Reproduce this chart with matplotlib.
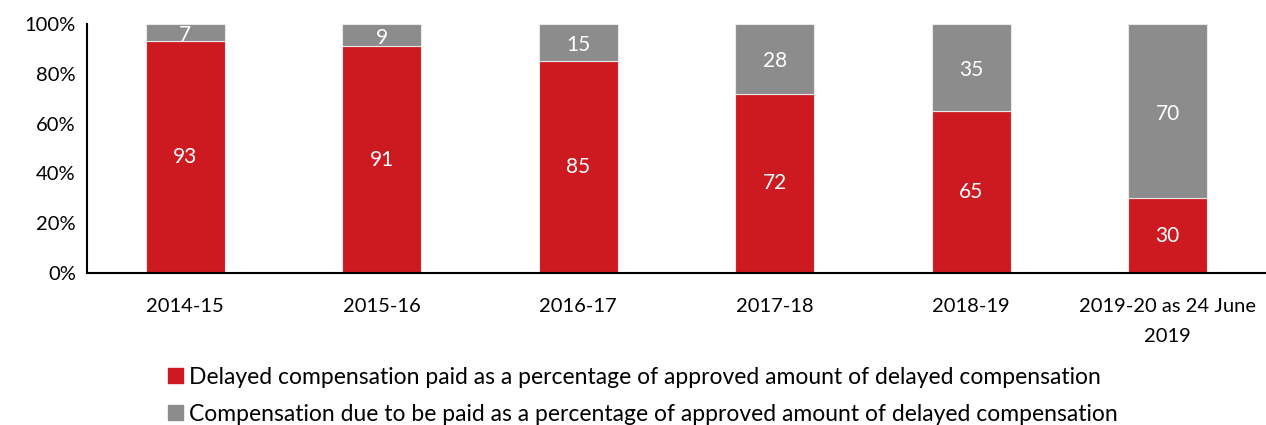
import matplotlib.pyplot as plt
from matplotlib.patches import Patch

# --- Data ---
years = ["2014-15", "2015-16", "2016-17", "2017-18", "2018-19", "2019-20 as 24 June\n2019"]
paid = [93, 91, 85, 72, 65, 30]
due = [7, 9, 15, 28, 35, 70]

paid_label = "Delayed compensation paid as a percentage of approved amount of delayed compensation"
due_label = "Compensation due to be paid as a percentage of approved amount of delayed compensation"

RED = "#CD1A20"
GREY = "#8C8C8D"

plt.rcParams['font.family'] = ['Lato', 'DejaVu Sans']

fig = plt.figure(figsize=(12.66, 4.25), dpi=100)
ax = fig.add_axes([0.0687, 0.3576, 0.9313, 0.5859])

x = range(len(years))
ax.bar(x, paid, width=0.4, color=RED, edgecolor="#e8e8e8", linewidth=0.8)
ax.bar(x, due, width=0.4, bottom=paid, color=GREY, edgecolor="#e8e8e8", linewidth=0.8)

# --- Value labels ---
for i in x:
    ax.text(i, paid[i] / 2, str(paid[i]), ha="center", va="center", color="white", fontsize=15)
    ax.text(i, paid[i] + due[i] / 2 - 1, str(due[i]), ha="center", va="center", color="white", fontsize=15)

ax.set_xlim(-0.5, 5.5)
ax.set_ylim(0, 100)
ax.set_yticks([0, 20, 40, 60, 80, 100])
ax.set_yticklabels([f"{v}%" for v in [0, 20, 40, 60, 80, 100]])
ax.set_xticks(list(x))
ax.set_xticklabels(years, linespacing=1.9)
ax.tick_params(axis="both", length=0, labelsize=14.5)
ax.tick_params(axis="x", pad=18)
ax.tick_params(axis="y", pad=8)

for side in ["top", "right"]:
    ax.spines[side].set_visible(False)
for side in ["left", "bottom"]:
    ax.spines[side].set_linewidth(1.5)
    ax.spines[side].set_color("black")

handles = [Patch(color=RED, label=paid_label), Patch(color=GREY, label=due_label)]
fig.legend(handles=handles, loc="upper left", bbox_to_anchor=(0.133, 0.137),
           frameon=False, fontsize=16.5, handlelength=0.65, handleheight=0.65,
           handletextpad=0.25, labelspacing=0.7, borderaxespad=0, borderpad=0)

plt.savefig("out.png", dpi=100)
